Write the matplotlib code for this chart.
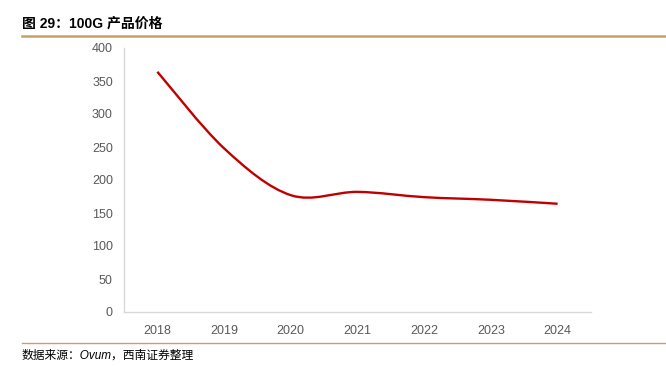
import numpy as np
import matplotlib
matplotlib.use('Agg')
import matplotlib.pyplot as plt
from matplotlib.path import Path
from matplotlib.patches import PathPatch
from matplotlib.lines import Line2D

plt.rcParams['font.family'] = ['Liberation Sans', 'Noto Sans CJK SC', 'DejaVu Sans']

years = ['2018', '2019', '2020', '2021', '2022', '2023', '2024']
price = [364, 248, 177, 182, 174, 170, 164]
yticks = [0, 50, 100, 150, 200, 250, 300, 350, 400]

fig = plt.figure(figsize=(6.66, 3.66), dpi=100)
ax = fig.add_axes([124 / 666, 54 / 366, 467 / 666, 264 / 366])

# 平滑曲线（类似 Excel 平滑线）
x = np.arange(len(years), dtype=float)
y = np.array(price, dtype=float)
verts = [(x[0], y[0])]
codes = [Path.MOVETO]
n = len(x)
for i in range(n - 1):
    p0 = (x[max(i - 1, 0)], y[max(i - 1, 0)])
    p1 = (x[i], y[i])
    p2 = (x[i + 1], y[i + 1])
    p3 = (x[min(i + 2, n - 1)], y[min(i + 2, n - 1)])
    c1 = (p1[0] + (p2[0] - p0[0]) / 6, p1[1] + (p2[1] - p0[1]) / 6)
    c2 = (p2[0] - (p3[0] - p1[0]) / 6, p2[1] - (p3[1] - p1[1]) / 6)
    verts += [c1, c2, p2]
    codes += [Path.CURVE4] * 3
ax.add_patch(PathPatch(Path(verts, codes), facecolor='none',
                       edgecolor='#C00000', lw=1.7, capstyle='butt'))

ax.set_xlim(-0.5, len(years) - 0.5)
ax.set_ylim(0, 400)
ax.set_xticks(x)
ax.set_xticklabels(years)
ax.set_yticks(yticks)
ax.tick_params(length=0, labelsize=9, colors='#595959', pad=9)
ax.tick_params(axis='y', pad=8)
for s in ['top', 'right']:
    ax.spines[s].set_visible(False)
for s in ['left', 'bottom']:
    ax.spines[s].set_color('#D9D9D9')
    ax.spines[s].set_linewidth(1.0)

# 标题与来源
fig.text(22 / 666, 1 - 24 / 366, '图 29：100G 产品价格', fontsize=10, fontweight='bold',
         va='center', ha='left', color='black')
fig.add_artist(Line2D([22 / 666, 1], [1 - 36 / 366] * 2, color='#C9A063', lw=1.8))
fig.add_artist(Line2D([22 / 666, 1], [1 - 343 / 366] * 2, color='#C9A063', lw=1.0))
fig.text(22 / 666, 1 - 356 / 366, '数据来源：Ovum，西南证券整理', fontsize=8.5, style='italic',
         va='center', ha='left', color='black')

fig.savefig('out.png', dpi=100)
